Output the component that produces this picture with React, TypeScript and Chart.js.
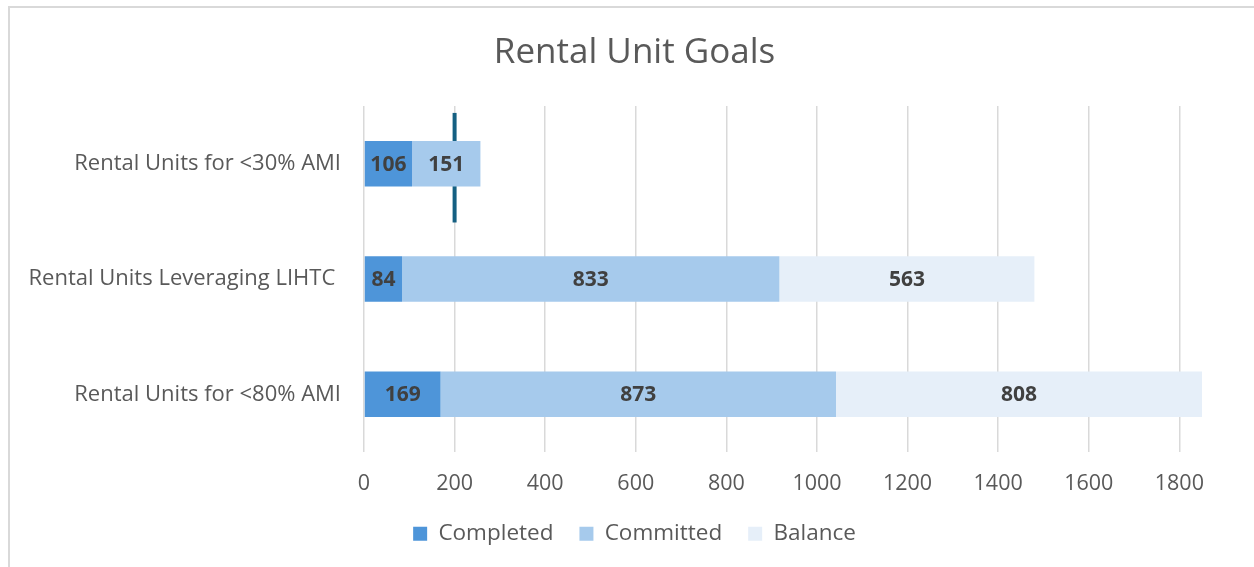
import React, { useEffect, useRef } from "react";
import { Chart, registerables } from "chart.js";

Chart.register(...registerables);

const categories = [
  "Rental Units for <30% AMI",
  "Rental Units Leveraging LIHTC ",
  "Rental Units for <80% AMI",
];
const completed = [106, 84, 169];
const committed = [151, 833, 873];
const balance = [0, 563, 808];
const goalMarker = [200, null, null];
const xTickValues = [0, 200, 400, 600, 800, 1000, 1200, 1400, 1600, 1800];
const xMax = 1850;

// style constants (marker extent in category units, relative to the category centre)
const MARKER_TOP = -0.44;
const MARKER_BOTTOM = 0.51;

const FONT = "'Open Sans', 'Noto Sans', sans-serif";

const goalPlugin = {
  id: "goalMarker",
  beforeDatasetsDraw(chart: any) {
    const ctx = chart.ctx;
    const xs = chart.scales.x;
    const ys = chart.scales.y;
    const step = ys.getPixelForValue(1) - ys.getPixelForValue(0);
    ctx.save();
    ctx.strokeStyle = "#156082";
    ctx.lineWidth = 4;
    ctx.lineCap = "butt";
    goalMarker.forEach((g, i) => {
      if (g === null) return;
      const x = xs.getPixelForValue(g);
      const c = ys.getPixelForValue(i);
      ctx.beginPath();
      ctx.moveTo(x, c + MARKER_TOP * step);
      ctx.lineTo(x, c + MARKER_BOTTOM * step);
      ctx.stroke();
    });
    ctx.restore();
  },
};

const labelPlugin = {
  id: "segmentLabels",
  afterDatasetsDraw(chart: any) {
    const ctx = chart.ctx;
    ctx.save();
    ctx.font = `bold 21px ${FONT}`;
    ctx.fillStyle = "#404040";
    ctx.textAlign = "center";
    ctx.textBaseline = "middle";
    chart.data.datasets.forEach((ds: any, di: number) => {
      const meta = chart.getDatasetMeta(di);
      meta.data.forEach((el: any, i: number) => {
        const v = ds.data[i];
        if (!v) return;
        const cx = (el.x + el.base) / 2;
        ctx.fillText(String(v), cx, el.y + 1);
      });
    });
    ctx.restore();
  },
};

export default function App() {
  const canvasRef = useRef<HTMLCanvasElement | null>(null);

  useEffect(() => {
    document.body.style.margin = "0";
    const barStyle = { barPercentage: 0.8, categoryPercentage: 0.494 };
    const chart = new Chart(canvasRef.current as HTMLCanvasElement, {
      type: "bar",
      data: {
        labels: categories,
        datasets: [
          { label: "Completed", data: completed, backgroundColor: "#4E95D9", ...barStyle },
          { label: "Committed", data: committed, backgroundColor: "#A6CAEC", ...barStyle },
          { label: "Balance", data: balance, backgroundColor: "#E6EFF9", ...barStyle },
        ],
      },
      options: {
        indexAxis: "y",
        animation: false,
        responsive: false,
        layout: { padding: { left: 67, right: 52, top: 0, bottom: 12 } },
        scales: {
          x: {
            type: "linear",
            stacked: true,
            min: 0,
            max: xMax,
            position: "bottom",
            grid: { color: "#D9D9D9", lineWidth: 1.5, drawTicks: false },
            border: { display: false },
            ticks: {
              color: "#595959",
              font: { family: FONT, size: 21.5 },
              padding: 19,
              callback: (v: any) => String(v),
            },
            afterBuildTicks: (scale: any) => {
              scale.ticks = xTickValues.map((v) => ({ value: v }));
            },
            afterFit: (scale: any) => {
              scale.height = 44.5;
              scale.paddingLeft = 0;
              scale.paddingRight = 0;
            },
          },
          y: {
            type: "category",
            stacked: true,
            grid: { display: false, drawTicks: false },
            border: { display: false },
            ticks: { color: "#595959", font: { family: FONT, size: 22 }, padding: 23 },
            afterFit: (scale: any) => {
              scale.width = 297;
              // let long category labels extend into the left margin instead of being clipped
              scale._computeLabelArea = () => undefined;
            },
          },
        } as any,
        plugins: {
          title: {
            display: true,
            text: "Rental Unit Goals",
            color: "#595959",
            font: { family: FONT, size: 35, weight: "normal" },
            padding: { top: 32, bottom: 32 },
          },
          legend: {
            position: "bottom",
            labels: {
              color: "#595959",
              font: { family: FONT, size: 22.5 },
              boxWidth: 14,
              boxHeight: 14,
              padding: 26,
            },
          },
          tooltip: { enabled: false },
        },
      },
      plugins: [goalPlugin, labelPlugin],
    } as any);
    return () => chart.destroy();
  }, []);

  return (
    <div style={{ position: "relative", width: 1254, height: 567, overflow: "hidden", background: "#fff" }}>
      <canvas ref={canvasRef} width={1254} height={567} style={{ display: "block" }} />
      <div
        style={{
          position: "absolute",
          left: 8,
          top: 6,
          width: 1300,
          height: 600,
          borderTop: "2px solid #D9D9D9",
          borderLeft: "2px solid #D9D9D9",
          pointerEvents: "none",
        }}
      />
    </div>
  );
}
